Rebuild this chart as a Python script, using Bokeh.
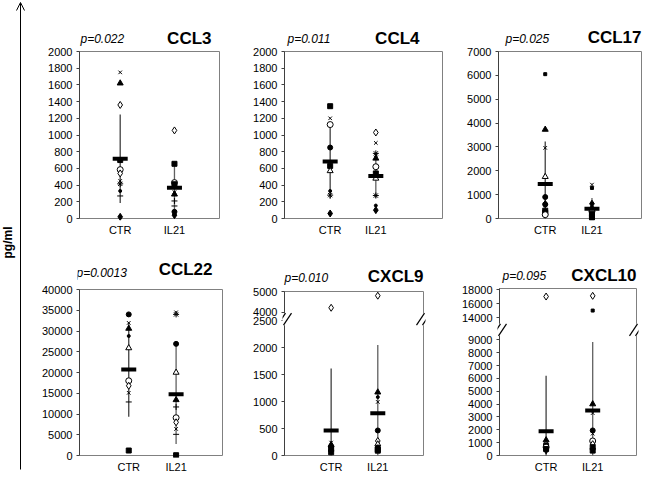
import math
from bokeh.plotting import figure
from bokeh.models import Range1d, FixedTicker, Label, Arrow, OpenHead, PolyAnnotation, ColumnDataSource
from bokeh.layouts import row, column
from bokeh.embed import file_html
from bokeh.resources import INLINE

FONT = "Liberation Sans"
groups = ["CTR", "IL21"]

# ---------------- data (pg/ml) ----------------
ccl3_ctr = [1750, 1620, 1360, 700, 585, 540, 450, 415, 330, 270, 20]
ccl3_ctr_mk = ["x", "tri", "dia_o", "sq", "cir_o", "dia_o", "x", "ast", "dot", "dash", "dia"]
ccl3_il21 = [1055, 655, 430, 410, 315, 290, 210, 150, 80, 40]
ccl3_il21_mk = ["dia_o", "sq", "cir_o", "sq", "x", "tri", "plus", "dash", "cir", "dia"]
ccl3_mean = [716, 367]
ccl3_sd = [530, 290]

ccl4_ctr = [1345, 1200, 1125, 850, 630, 570, 330, 280, 60]
ccl4_ctr_mk = ["sq", "x", "cir_o", "cir", "sq", "tri_o", "dot", "ast", "dia"]
ccl4_il21 = [1030, 905, 780, 760, 720, 620, 540, 480, 275, 155, 100]
ccl4_il21_mk = ["dia_o", "x", "ast", "x", "tri", "cir_o", "sq", "tri_o", "ast", "dot", "dia"]
ccl4_mean = [683, 510]
ccl4_sd = [445, 260]

ccl17_ctr = [6050, 3730, 2960, 1750, 900, 610, 590, 330, 240, 160]
ccl17_ctr_mk = ["sqs", "tri", "x", "tri_o", "cir", "dia", "cir", "sq", "sq", "cir_o"]
ccl17_il21 = [1420, 1280, 620, 450, 300, 200, 100, 40]
ccl17_il21_mk = ["x", "sqs", "dia", "tri", "cir_o", "sq", "sq", "sq"]
ccl17_mean = [1450, 410]
ccl17_sd = [1780, 450]

ccl22_ctr = [34000, 31950, 30600, 28800, 25900, 18000, 16800, 15100, 12900, 1200]
ccl22_ctr_mk = ["cir", "x", "tri", "dot", "tri_o", "cir_o", "dia_o", "x", "dash", "sq"]
ccl22_il21 = [34500, 34000, 26900, 20000, 13400, 11700, 9100, 8000, 6400, 5100, 70]
ccl22_il21_mk = ["x", "ast", "cir", "tri_o", "tri", "plus", "cir_o", "dia_o", "x", "dash", "sq"]
ccl22_mean = [20750, 14750]
ccl22_sd = [11400, 12000]

cxcl9_ctr = [4210, 240, 200, 160, 120, 90, 60]
cxcl9_ctr_mk = ["dia_o", "x", "tri", "cir", "sq", "dia", "sq"]
cxcl9_il21 = [4800, 1175, 1085, 995, 465, 270, 210, 150, 110, 90]
cxcl9_il21_mk = ["dia_o", "tri", "dot", "x", "cir", "dia_o", "tri_o", "cir", "sq", "sq"]
cxcl9_mean = [465, 783]
cxcl9_sd = [1150, 1270]

cxcl10_ctr = [17000, 1200, 900, 750, 650, 500, 400]
cxcl10_ctr_mk = ["dia_o", "tri", "x", "sq", "cir_o", "sq", "dia"]
cxcl10_il21 = [17100, 15000, 4000, 3300, 1950, 1700, 1130, 880, 650, 380]
cxcl10_il21_mk = ["dia_o", "sqs", "tri", "x", "cir", "x", "cir_o", "dia_o", "sq", "sq"]
cxcl10_mean = [1880, 3510]
cxcl10_sd = [4315, 5320]

ticks_ccl3 = list(range(0, 2001, 200))
ticks_ccl4 = list(range(0, 2001, 200))
ticks_ccl17 = list(range(0, 7001, 1000))
ticks_ccl22 = list(range(0, 40001, 5000))
ticks_cxcl9 = [0, 500, 1000, 1500, 2000, 2500, 4000, 5000]
ticks_cxcl10 = [0, 1000, 2000, 3000, 4000, 5000, 6000, 7000, 8000, 9000, 14000, 16000, 18000]

# ---------------- styling helpers ----------------
MK = {
    "x": ("x", "black", 5), "tri": ("triangle", "black", 6), "tri_o": ("triangle", "white", 6),
    "dia": ("diamond", "black", 7), "dia_o": ("diamond", "white", 7), "cir": ("circle", "black", 5),
    "cir_o": ("circle", "white", 6), "sq": ("square", "black", 5), "sqs": ("square", "black", 3),
    "ast": ("asterisk", "black", 6), "dash": ("dash", "black", 6), "dot": ("circle", "black", 3),
    "plus": ("cross", "black", 6),
}


def ident(v):
    return v


def brk9(v):
    return v if v < 3000 else 2664 + (v - 4000) * 0.38


def brk10(v):
    return v if v < 11000 else 10730 + (v - 14000) * 0.545


def panel(title, ptxt, ctr, ctr_mk, il, il_mk, means, sds, yticks, ytop, fmap, xr,
          fw, fh, bl, br, bt, bb, toff, poff, tdx, pdx, brk_at=None):
    pad = 2                 # px of frame kept around the drawn box
    th = bt - 4             # px of frame above the box used for the titles
    sx = (xr[1] - xr[0]) / fw
    sy = ytop / fh
    p = figure(frame_width=fw + 2 * pad, frame_height=fh + pad + th,
               min_border_left=bl - pad, min_border_right=br - pad,
               min_border_top=bt - th, min_border_bottom=bb - pad,
               x_range=Range1d(xr[0] - pad * sx, xr[1] + pad * sx),
               y_range=Range1d(-pad * sy, ytop + th * sy),
               toolbar_location=None, output_backend="svg")
    p.grid.visible = False
    p.outline_line_color = None
    p.background_fill_color = "white"
    p.border_fill_color = "white"

    # box
    p.quad(left=[xr[0]], right=[xr[1]], bottom=[0], top=[ytop], fill_color=None,
           line_color="#808080", line_width=1)
    p.segment(x0=[xr[0]], x1=[xr[0]], y0=[0], y1=[ytop], line_color="#404040", line_width=1)

    xs, ys, mks, fills, sizes = [], [], [], [], []
    for xi, vals, codes in ((1, ctr, ctr_mk), (2, il, il_mk)):
        for v, c in zip(vals, codes):
            m, fc, s = MK[c]
            xs.append(xi); ys.append(fmap(v)); mks.append(m); fills.append(fc); sizes.append(s)
    src = ColumnDataSource(dict(x=xs, y=ys, marker=mks, fill=fills, size=sizes))

    p.segment(x0=[1, 2], x1=[1, 2], y0=[max(fmap(m - s), 0) for m, s in zip(means, sds)],
              y1=[fmap(m + s) for m, s in zip(means, sds)], line_color=["#404040", "#606060"],
              line_width=1.3)
    p.scatter("x", "y", source=src, marker="marker", size="size", fill_color="fill",
              line_color="black", line_width=1)
    p.rect(x=[1, 2], y=[fmap(m) for m in means], width=15, height=4,
           width_units="screen", height_units="screen", fill_color="black", line_color=None)

    # axes
    yt = [int(round(fmap(t))) for t in yticks]
    p.yaxis.ticker = FixedTicker(ticks=yt)
    p.yaxis.major_label_overrides = {k: str(t) for k, t in zip(yt, yticks)}
    p.yaxis.minor_tick_line_color = None
    p.yaxis.major_tick_out = 1
    p.yaxis.major_tick_in = pad
    p.yaxis.major_label_standoff = 4
    p.yaxis.axis_line_color = None
    p.yaxis.major_tick_line_color = "#404040"
    p.xaxis.ticker = FixedTicker(ticks=[1, 2])
    p.xaxis.major_label_overrides = {1: groups[0], 2: groups[1]}
    p.xaxis.minor_tick_line_color = None
    p.xaxis.major_tick_line_color = None
    p.xaxis.major_tick_out = 0
    p.xaxis.major_tick_in = 0
    p.xaxis.major_label_standoff = 3
    p.xaxis.axis_line_color = None
    for ax in (p.xaxis, p.yaxis):
        ax.major_label_text_font = FONT
        ax.major_label_text_font_size = "11px"
        ax.major_label_text_color = "black"

    p.add_layout(Label(x=xr[1] - tdx * sx, y=ytop + toff * sy, text=title, text_align="right",
                       text_baseline="middle", text_font=FONT, text_font_size="17px",
                       text_font_style="bold", text_color="black"))
    p.add_layout(Label(x=xr[0] + pdx * sx, y=ytop + poff * sy, text=ptxt, text_align="left",
                       text_baseline="middle", text_font=FONT, text_font_size="12px",
                       text_font_style="italic", text_color="black"))

    if brk_at is not None:
        for xe in xr:
            pts = [(-7, -6), (-1, 6), (7, 6), (1, -6)]
            p.add_layout(PolyAnnotation(xs=[xe + a * sx for a, b in pts],
                                        ys=[brk_at + b * sy for a, b in pts],
                                        fill_color="white", fill_alpha=1, line_alpha=0))
            for dx in (-3, 3):
                p.add_layout(Arrow(end=None, x_start=xe + (dx - 4) * sx, y_start=brk_at - 6 * sy,
                                   x_end=xe + (dx + 4) * sx, y_end=brk_at + 6 * sy,
                                   line_color="black", line_width=1.2))
    return p


f1 = panel("CCL3", "p=0.022", ccl3_ctr, ccl3_ctr_mk, ccl3_il21, ccl3_il21_mk, ccl3_mean, ccl3_sd,
           ticks_ccl3, 2000, ident, (0.25, 2.83), 140, 167, 42, 20, 51, 29, 13, 13, 8, 1)
f2 = panel("CCL4", "p=0.011", ccl4_ctr, ccl4_ctr_mk, ccl4_il21, ccl4_il21_mk, ccl4_mean, ccl4_sd,
           ticks_ccl4, 2000, ident, (0.0, 3.46), 158, 167, 45, 14, 51, 29, 13, 13, 23, 3)
f3 = panel("CCL17", "p=0.025", ccl17_ctr, ccl17_ctr_mk, ccl17_il21, ccl17_il21_mk, ccl17_mean, ccl17_sd,
           ticks_ccl17, 7000, ident, (0.0, 3.06), 143, 167, 42, 15, 51, 29, 14, 13, 0, 7)
f4 = panel("CCL22", "p=0.0013", ccl22_ctr, ccl22_ctr_mk, ccl22_il21, ccl22_il21_mk, ccl22_mean, ccl22_sd,
           ticks_ccl22, 40000, ident, (-0.04, 2.98), 143, 166, 42, 17, 42, 16, 20, 17, 10, -3)
f5 = panel("CXCL9", "p=0.010", cxcl9_ctr, cxcl9_ctr_mk, cxcl9_il21, cxcl9_il21_mk, cxcl9_mean, cxcl9_sd,
           ticks_cxcl9, 3046, brk9, (0.0, 2.98), 139, 164, 45, 33, 44, 16, 15, 14, 0, 0, brk_at=2532)
f6 = panel("CXCL10", "p=0.095", cxcl10_ctr, cxcl10_ctr_mk, cxcl10_il21, cxcl10_il21_mk, cxcl10_mean, cxcl10_sd,
           ticks_cxcl10, 12990, brk10, (0.0, 2.94), 137, 167, 43, 20, 41, 16, 13, 13, 0, 3, brk_at=9774)

# left strip with the shared y label and arrow
LH = 471
lf = figure(frame_width=37, frame_height=LH, x_range=Range1d(0, 37), y_range=Range1d(0, LH),
            x_axis_location=None, y_axis_location=None, toolbar_location=None,
            output_backend="svg", min_border=0)
lf.grid.visible = False
lf.outline_line_color = None
lf.add_layout(Arrow(end=OpenHead(size=8, line_width=1, line_color="black"), x_start=20, y_start=2,
                    x_end=20, y_end=LH - 2, line_width=1, line_color="black"))
lf.add_layout(Label(x=7.5, y=229, text="pg/ml", angle=math.pi / 2, text_align="center",
                    text_baseline="middle", text_font=FONT, text_font_size="12px",
                    text_font_style="bold", text_color="black"))

layout = row(lf, column(row(f1, f2, f3), row(f4, f5, f6)))
open("out.html", "w").write(file_html(layout, INLINE))
